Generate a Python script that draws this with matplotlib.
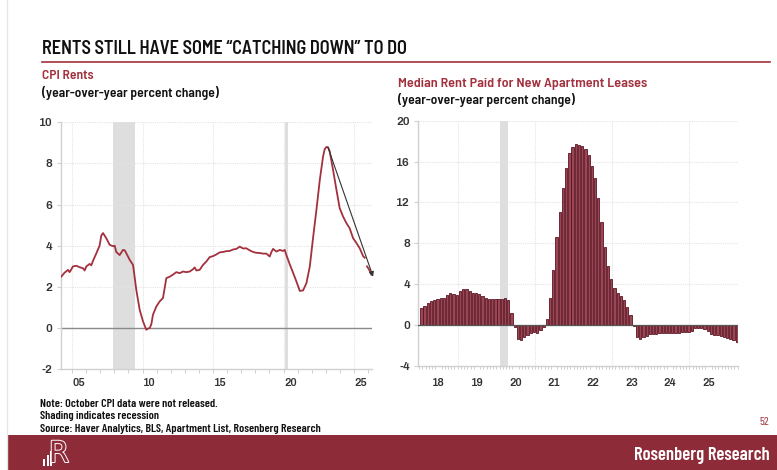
import numpy as np
import matplotlib
matplotlib.use("Agg")
import matplotlib.pyplot as plt
import matplotlib.patheffects as pe
from matplotlib.patches import Rectangle

# CPI rents, year-over-year % (fractional year, value); nan = October gap
cpi_years = [2004.24, 2004.48, 2004.72, 2004.83, 2004.95, 2005.07, 2005.31, 2005.54, 2005.78, 2005.90,
             2006.02, 2006.25, 2006.37, 2006.49, 2006.73, 2006.96, 2007.08, 2007.20, 2007.43, 2007.67,
             2007.91, 2008.03, 2008.14, 2008.38, 2008.62, 2008.74, 2008.85, 2009.09, 2009.33, 2009.56,
             2009.80, 2010.04, 2010.27, 2010.39, 2010.51, 2010.63, 2010.74, 2010.98, 2011.22, 2011.45,
             2011.69, 2011.93, 2012.16, 2012.40, 2012.64, 2012.87, 2013.11, 2013.35, 2013.58, 2013.70,
             2013.82, 2014.05, 2014.29, 2014.53, 2014.76, 2015.00, 2015.24, 2015.47, 2015.71, 2015.95,
             2016.18, 2016.42, 2016.66, 2016.89, 2017.13, 2017.36, 2017.60, 2017.84, 2018.07, 2018.31,
             2018.55, 2018.78, 2019.02, 2019.14, 2019.26, 2019.49, 2019.73, 2019.96, 2020.08, 2020.20,
             2020.44, 2020.67, 2020.91, 2021.15, 2021.38, 2021.62, 2021.86, 2022.09, 2022.33, 2022.57,
             2022.80, 2022.92, 2023.04, 2023.16, 2023.27, 2023.51, 2023.75, 2023.98, 2024.22, 2024.46,
             2024.69, 2024.93, 2025.17, 2025.40, 2025.64, 2025.76, 2025.84, 2025.92, 2026.06, 2026.23]
cpi_values = [2.5, 2.7, 2.83, 2.72, 2.85, 3.0, 3.03, 2.96, 2.91, 2.8,
              3.0, 3.12, 3.05, 3.27, 3.64, 4.01, 4.5, 4.62, 4.37, 4.05,
              3.98, 4.0, 3.7, 3.55, 3.8, 3.78, 3.64, 3.32, 3.07, 1.86,
              0.89, 0.32, -0.08, -0.02, 0.0, 0.2, 0.65, 1.05, 1.3, 1.46,
              2.43, 2.5, 2.6, 2.72, 2.67, 2.75, 2.72, 2.75, 2.86, 2.95,
              2.8, 2.83, 3.07, 3.24, 3.45, 3.5, 3.58, 3.68, 3.7, 3.74,
              3.75, 3.82, 3.85, 3.96, 3.87, 3.88, 3.78, 3.7, 3.66, 3.65,
              3.62, 3.62, 3.48, 3.7, 3.85, 3.72, 3.8, 3.75, 3.8, 3.55,
              3.1, 2.7, 2.27, 1.81, 1.83, 2.18, 2.99, 4.37, 5.74, 7.2,
              8.33, 8.7, 8.8, 8.78, 8.6, 7.69, 6.72, 5.83, 5.42, 5.1,
              4.85, 4.37, 4.13, 3.88, 3.5, 3.42, np.nan, 3.0, 2.85, 2.6]

# Apartment List median rent paid on new leases, yoy %, monthly from 2018
new_lease = [1.7, 1.86, 2.15, 2.3, 2.45, 2.55, 2.6, 2.65, 2.97, 3.1,
             3.0, 2.97, 3.36, 3.5, 3.5, 3.36, 3.14, 3.1, 3.0, 2.84,
             2.65, 2.55, 2.5, 2.5, 2.5, 2.58, 2.65, 2.45, 1.18, -0.23,
             -1.4, -1.47, -1.2, -0.98, -0.75, -0.72, -0.75, -0.55, -0.23, 0.59,
             2.6, 5.4, 8.6, 11.1, 13.4, 15.4, 16.8, 17.4, 17.75, 17.6,
             17.5, 17.25, 16.6, 15.6, 14.4, 12.4, 10.1, 7.6, 5.8, 4.5,
             3.6, 3.1, 2.8, 2.4, 1.73, 0.95, -0.1, -1.2, -1.34, -1.2,
             -1.08, -0.88, -0.85, -0.85, -0.75, -0.78, -0.8, -0.8, -0.78, -0.78,
             -0.75, -0.72, -0.7, -0.65, -0.62, -0.3, -0.3, -0.3, -0.4, -0.62,
             -0.85, -0.95, -0.98, -1.08, -1.2, -1.3, -1.4, -1.5, -1.7]
lease_start = 2018.06

cpi_labels = ["05", "10", "15", "20", "25"]
cpi_label_years = [2005, 2010, 2015, 2020, 2025]
lease_labels = ["18", "19", "20", "21", "22", "23", "24", "25"]
lease_label_years = [2018, 2019, 2020, 2021, 2022, 2023, 2024, 2025]

recessions = [(2007.92, 2009.45), (2020.1, 2020.3)]

RED = "#a3303d"
BAND = "#8e2b38"
GRID = "#e4e4e4"
HEAD = ["Barlow Semi Condensed", "DejaVu Sans"]
NARROW = ["Barlow Condensed", "DejaVu Sans"]
TICK = ["Archivo", "DejaVu Sans"]

plt.rcParams["axes.unicode_minus"] = False

W, H = 777, 470
fig = plt.figure(figsize=(W / 100, H / 100), dpi=100)
fig.patch.set_facecolor("white")


def px(x, y):
    # pixel position (from top-left) -> figure fraction
    return x / W, 1 - y / H


def style_axes(ax, xpad):
    for s in ["top", "right"]:
        ax.spines[s].set_visible(False)
    for s in ["left", "bottom"]:
        ax.spines[s].set_color("#d0d0d0")
        ax.spines[s].set_linewidth(1.0)
    ax.tick_params(axis="y", length=3, color="#d0d0d0", labelsize=8.5,
                   labelcolor="#333333", pad=3)
    ax.tick_params(axis="x", which="both", color="#c8c8c8", labelsize=8,
                   labelcolor="#333333")
    ax.tick_params(axis="x", which="minor", length=3)
    ax.tick_params(axis="x", which="major", length=0, pad=xpad)
    for lab in ax.get_yticklabels() + ax.get_xticklabels():
        lab.set_family(TICK)


# ---- left panel: CPI rents
ax1 = fig.add_axes([60.7 / W, 1 - 369.3 / H, 311 / W, 247 / H])
ax1.set_xlim(2004.2, 2026.25)
ax1.set_ylim(-2, 10)
for a, b in recessions:
    ax1.axvspan(a, b, color="#dedede", lw=0, zorder=0)
ax1.set_yticks(range(-2, 11, 2))
ax1.set_xticks([y + 0.5 for y in cpi_label_years])
ax1.set_xticklabels(cpi_labels)
ax1.set_xticks(np.arange(2005, 2027), minor=True)
for y in range(0, 11, 2):
    ax1.axhline(y, color=GRID, lw=0.8, ls=(0, (1, 1)), zorder=0)
for y in cpi_label_years:
    ax1.axvline(y, color=GRID, lw=0.8, ls=(0, (1, 1)), zorder=0)
ax1.axhline(0, color="#8a8a8a", lw=1.0, zorder=1)
ax1.plot(cpi_years, cpi_values, color=RED, lw=1.3, zorder=3)
peak = int(np.nanargmax(cpi_values))
ax1.annotate("", xy=(2026.35, 2.5), xytext=(cpi_years[peak] + 0.1, cpi_values[peak]),
             arrowprops=dict(arrowstyle="-|>", color="#333333", lw=0.8,
                             mutation_scale=7, shrinkA=0, shrinkB=0),
             annotation_clip=False, zorder=4)
style_axes(ax1, 6)

# ---- right panel: new apartment leases
ax2 = fig.add_axes([418.3 / W, 1 - 365.7 / H, 319.7 / W, 245 / H])
ax2.set_xlim(2017.98, 2026.26)
ax2.set_ylim(-4, 20)
for a, b in recessions:
    if a > 2018:
        ax2.axvspan(a, b, color="#dedede", lw=0, zorder=0)
ax2.set_yticks(range(-4, 21, 4))
ax2.set_xticks([y + 0.5 for y in lease_label_years])
ax2.set_xticklabels(lease_labels)
ax2.set_xticks(np.arange(2018, 2026.3, 1 / 12), minor=True)
for y in range(4, 21, 4):
    ax2.axhline(y, color=GRID, lw=0.8, ls=(0, (1, 1)), zorder=0)
for y in [2019, 2021, 2023, 2025]:
    ax2.axvline(y, color=GRID, lw=0.8, ls=(0, (1, 1)), zorder=0)
lease_x = lease_start + np.arange(len(new_lease)) / 12
ax2.bar(lease_x, new_lease, width=0.058, color="#9a4655", edgecolor="#5c1421",
        linewidth=0.6, zorder=2)
ax2.axhline(0, color="#555555", lw=0.9, zorder=3)
style_axes(ax2, 9)
ax2.tick_params(axis="x", which="minor", length=2)

# ---- page furniture
fig.add_artist(plt.Line2D([7 / W, 7 / W], [0, 1], color="#e6e6e6", lw=1))
fig.text(*px(42, 49), "RENTS STILL HAVE SOME \u201cCATCHING DOWN\u201d TO DO",
         family=HEAD, weight=600, fontsize=13.2, color="#111111", va="center")
fig.add_artist(plt.Line2D([42 / W, 770 / W], [1 - 62.3 / H] * 2, color=RED, lw=1.2))
fig.text(*px(42, 76), "CPI Rents", family=HEAD, weight=600, fontsize=9.8,
         color=RED, va="center")
fig.text(*px(42, 93), "(year-over-year percent change)", family=HEAD,
         weight=600, fontsize=9.8, color="#111111", va="center")
fig.text(*px(398, 84), "Median Rent Paid for New Apartment Leases", family=HEAD,
         weight=600, fontsize=10.2, color=RED, va="center")
fig.text(*px(398, 100), "(year-over-year percent change)", family=HEAD,
         weight=600, fontsize=9.8, color="#111111", va="center")

notes = ["Note: October CPI data were not released.",
         "Shading indicates recession",
         "Source: Haver Analytics, BLS, Apartment List, Rosenberg Research"]
for i, n in enumerate(notes):
    fig.text(*px(40, 404 + i * 12.3), n, family=NARROW, weight=600,
             fontsize=8.6, color="#111111", va="center")
fig.text(*px(769, 422), "52", family=NARROW, fontsize=8.5, color=RED,
         ha="right", va="center")

fig.add_artist(Rectangle((7 / W, 0), 1 - 7 / W, 1 - 435 / H,
                         transform=fig.transFigure, color=BAND, lw=0))
fig.text(*px(770, 456), "Rosenberg Research", family=NARROW, weight=600,
         fontsize=13.4, color="white", ha="right", va="center")
# logo: outlined R with small bars
fig.text(*px(59, 454), "R", family=["DejaVu Sans"], fontsize=21, color=BAND,
         ha="center", va="center",
         path_effects=[pe.withStroke(linewidth=1.4, foreground="white")])
for bx, bh in [(43, 7), (46.5, 11), (50, 15)]:
    fig.add_artist(Rectangle((bx / W, 1 - 466 / H), 2 / W, bh / H,
                             transform=fig.transFigure, color="white", lw=0))

fig.savefig("out.png", dpi=100)
